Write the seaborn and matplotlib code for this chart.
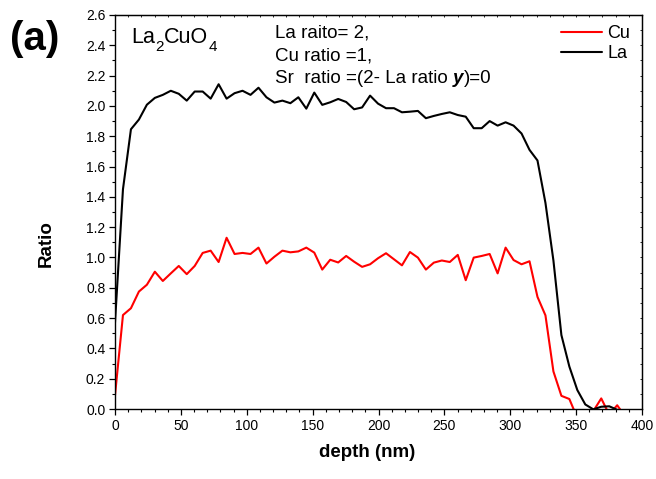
import matplotlib
matplotlib.use("Agg")
import matplotlib.pyplot as plt
import numpy as np
import pandas as pd
import seaborn as sns
from matplotlib.ticker import MultipleLocator, FormatStrFormatter

# ---- data ----
depth = [0.0, 6.05, 12.1, 18.15, 24.2, 30.25, 36.3, 42.35, 48.4, 54.45,
         60.5, 66.55, 72.6, 78.65, 84.7, 90.75, 96.8, 102.85, 108.9, 114.95,
         121.0, 127.05, 133.1, 139.15, 145.2, 151.25, 157.3, 163.35, 169.4, 175.45,
         181.5, 187.55, 193.6, 199.65, 205.7, 211.75, 217.8, 223.85, 229.9, 235.95,
         242.0, 248.05, 254.1, 260.15, 266.2, 272.25, 278.3, 284.35, 290.4, 296.45,
         302.5, 308.55, 314.6, 320.65, 326.7, 332.75, 338.8, 344.85, 350.9, 356.95,
         363.0, 369.05, 375.1, 381.15, 387.2]

cu_ratio = [0.09, 0.62, 0.665, 0.775, 0.82, 0.906, 0.845, 0.895, 0.944, 0.89,
            0.944, 1.03, 1.045, 0.97, 1.13, 1.023, 1.03, 1.023, 1.065, 0.96,
            1.005, 1.045, 1.034, 1.04, 1.065, 1.032, 0.92, 0.985, 0.967, 1.01,
            0.972, 0.938, 0.955, 0.995, 1.028, 0.988, 0.948, 1.036, 0.999, 0.92,
            0.966, 0.98, 0.97, 1.017, 0.85, 0.999, 1.01, 1.023, 0.895, 1.065,
            0.983, 0.955, 0.975, 0.74, 0.618, 0.248, 0.087, 0.066, -0.06, -0.08,
            -0.014, 0.07, -0.037, 0.025, -0.05]

la_ratio = [0.57, 1.45, 1.846, 1.91, 2.008, 2.053, 2.073, 2.10, 2.08, 2.035,
            2.095, 2.095, 2.048, 2.143, 2.048, 2.084, 2.10, 2.073, 2.12, 2.057,
            2.022, 2.035, 2.018, 2.057, 1.982, 2.088, 2.007, 2.024, 2.046, 2.026,
            1.978, 1.99, 2.068, 2.015, 1.985, 1.985, 1.958, 1.962, 1.967, 1.919,
            1.934, 1.947, 1.958, 1.94, 1.929, 1.853, 1.853, 1.90, 1.87, 1.892,
            1.87, 1.818, 1.71, 1.64, 1.36, 0.98, 0.488, 0.28, 0.125, 0.03,
            -0.002, 0.015, 0.018, -0.005, -0.03]

elements = ["Cu", "La"]
colors = {"Cu": "#ff0000", "La": "#000000"}

x_ticks = [0, 50, 100, 150, 200, 250, 300, 350, 400]

# ---- style ----
sns.set_style("ticks")
plt.rcParams['font.family'] = ['Liberation Sans', 'DejaVu Sans']
plt.rcParams['text.color'] = 'black'
plt.rcParams['axes.labelcolor'] = 'black'
plt.rcParams['xtick.color'] = 'black'
plt.rcParams['ytick.color'] = 'black'

df = pd.DataFrame({
    "depth": depth + depth,
    "ratio": cu_ratio + la_ratio,
    "element": ["Cu"] * len(cu_ratio) + ["La"] * len(la_ratio),
})

fig = plt.figure(figsize=(6.56, 4.79), dpi=100)
ax = fig.add_axes([0.1753, 0.1461, 0.8034, 0.8226])

sns.lineplot(data=df, x="depth", y="ratio", hue="element", hue_order=elements,
             palette=colors, linewidth=1.5, estimator=None, sort=False, ax=ax)

ax.set_xlim(0, 400)
ax.set_ylim(0, 2.6)
ax.set_xticks(x_ticks)
ax.xaxis.set_minor_locator(MultipleLocator(10))
ax.yaxis.set_major_locator(MultipleLocator(0.2))
ax.yaxis.set_minor_locator(MultipleLocator(0.1))
ax.yaxis.set_major_formatter(FormatStrFormatter('%.1f'))

for s in ax.spines.values():
    s.set_linewidth(1.0)
    s.set_color('black')
ax.tick_params(axis='both', which='major', direction='out', length=4, width=0.9,
               labelsize=10, colors='black', pad=3)
ax.tick_params(axis='both', which='minor', direction='out', length=2.3, width=0.8)

# small inner ticks on top and right
sec_x = ax.secondary_xaxis('top')
sec_x.set_xticks(x_ticks)
sec_x.xaxis.set_minor_locator(MultipleLocator(10))
sec_x.tick_params(which='both', direction='in', length=1.5, width=0.6, labeltop=False)
sec_y = ax.secondary_yaxis('right')
sec_y.yaxis.set_major_locator(MultipleLocator(0.2))
sec_y.yaxis.set_minor_locator(MultipleLocator(0.1))
sec_y.tick_params(which='both', direction='in', length=1.5, width=0.6, labelright=False)

ax.set_xlabel("depth (nm)", fontsize=13.5, fontweight='bold')
ax.set_ylabel("Ratio", fontsize=13.5, fontweight='bold')
ax.xaxis.set_label_coords(0.478, -0.088)
ax.yaxis.set_label_coords(-0.115, 0.42)

# legend
leg = ax.legend(loc='upper right', bbox_to_anchor=(0.978, 0.975), frameon=False,
                fontsize=13, handlelength=2.3, handletextpad=0.3,
                labelspacing=0.2, borderaxespad=0, borderpad=0)
for line in leg.get_lines():
    line.set_linewidth(1.5)

# formula label with low subscripts (La2CuO4)
main_fs, sub_fs = 15.5, 11
p1 = ax.text(0.030, 0.929, "La", transform=ax.transAxes, fontsize=main_fs,
             va='baseline', ha='left')
p2 = ax.annotate("2", xy=(1, 0), xycoords=p1, xytext=(0.3, -4),
                 textcoords='offset points', fontsize=sub_fs, va='bottom', ha='left')
p3 = ax.annotate("CuO", xy=(1, 0), xycoords=(p2, p1), xytext=(0.3, 0),
                 textcoords='offset points', fontsize=main_fs, va='bottom', ha='left')
ax.annotate("4", xy=(1, 0), xycoords=p3, xytext=(0.3, -4),
            textcoords='offset points', fontsize=sub_fs, va='bottom', ha='left')

# annotation block
fs = 13.5
ax.text(0.304, 0.943, "La raito= 2,", transform=ax.transAxes, fontsize=fs,
        va='baseline', ha='left')
ax.text(0.304, 0.884, "Cu ratio =1,", transform=ax.transAxes, fontsize=fs,
        va='baseline', ha='left')
t1 = ax.text(0.304, 0.827, "Sr  ratio =(2- La ratio ", transform=ax.transAxes,
             fontsize=fs, va='baseline', ha='left')
t2 = ax.annotate("y", xy=(1, 0), xycoords=t1, fontsize=fs, fontweight='bold',
                 fontstyle='italic', va='bottom', ha='left')
ax.annotate(")=0", xy=(1, 0), xycoords=t2, fontsize=fs, va='bottom', ha='left')

fig.text(10 / 656, 1 - 20 / 479, "(a)", fontsize=29, fontweight='bold',
         va='top', ha='left')

fig.savefig("out.png", dpi=100)
